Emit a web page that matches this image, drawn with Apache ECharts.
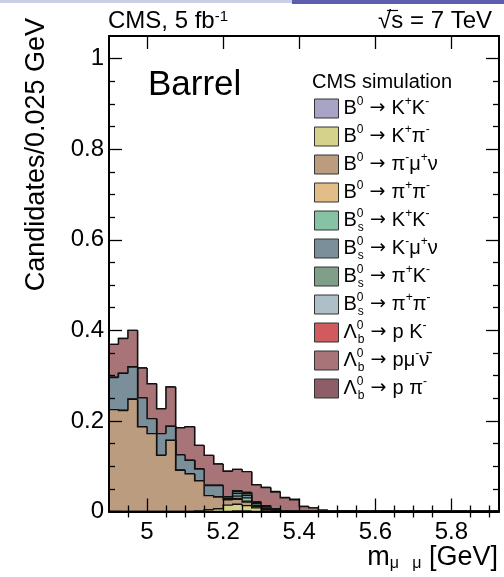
<!DOCTYPE html>
<html>
<head>
<meta charset="utf-8">
<script src="https://cdn.jsdelivr.net/npm/echarts@6/dist/echarts.min.js"></script>
<style>
  html, body { margin: 0; padding: 0; background: #fff; }
  #chart { width: 504px; height: 577px; }
</style>
</head>
<body>
<div id="chart"></div>
<script>
// Dimuon invariant mass, stacked simulated peaking / semileptonic backgrounds (barrel)
const binEdges = [4.900, 4.925, 4.950, 4.975, 5.000, 5.025, 5.050, 5.075, 5.100, 5.125,
                  5.150, 5.175, 5.200, 5.225, 5.250, 5.275, 5.300, 5.325, 5.350, 5.375,
                  5.400, 5.425, 5.450, 5.475, 5.500, 5.525, 5.550, 5.575, 5.600, 5.625,
                  5.650, 5.675, 5.700, 5.725, 5.750, 5.775, 5.800, 5.825, 5.850, 5.875,
                  5.900, 5.925];

// Candidates per 0.025 GeV bin, one value per bin (41 bins)
const b0KK = [0,0,0,0,0,0,0,0,0,0, 0,0,0,0.001,0.001,0,0,0,0,0, 0,0,0,0,0,0,0,0,0,0, 0,0,0,0,0,0,0,0,0,0, 0];
const b0KPi = [0,0,0,0,0,0,0,0,0,0.001, 0.004,0.006,0.014,0.015,0.012,0.008,0.003,0.001,0,0, 0,0,0,0,0,0,0,0,0,0, 0,0,0,0,0,0,0,0,0,0, 0];
const b0PiMuNu = [0.225,0.223,0.248,0.187,0.172,0.124,0.157,0.091,0.083,0.067, 0.031,0.026,0.012,0.011,0.008,0.003,0.001,0,0,0, 0,0,0,0,0,0,0,0,0,0, 0,0,0,0,0,0,0,0,0,0, 0];
const b0PiPi = [0,0,0,0,0,0,0,0,0,0, 0,0,0,0.002,0.002,0.002,0,0,0,0, 0,0,0,0,0,0,0,0,0,0, 0,0,0,0,0,0,0,0,0,0, 0];
const bsKK = [0,0,0,0,0,0,0,0,0,0, 0,0,0,0.005,0.007,0.004,0.002,0,0,0, 0,0,0,0,0,0,0,0,0,0, 0,0,0,0,0,0,0,0,0,0, 0];
const bsKMuNu = [0.071,0.082,0.071,0.064,0.033,0.048,0.031,0.034,0.030,0.026, 0.0225,0.0255,0.002,0.006,0.006,0.001,0.002,0,0,0, 0,0,0,0,0,0,0,0,0,0, 0,0,0,0,0,0,0,0,0,0, 0];
const bsPiK = [0,0,0,0,0,0,0,0,0,0, 0,0,0.004,0.004,0.004,0.002,0.003,0.002,0,0, 0,0,0,0,0,0,0,0,0,0, 0,0,0,0,0,0,0,0,0,0, 0];
const bsPiPi = [0,0,0,0,0,0,0,0,0,0, 0,0,0,0.002,0.002,0.001,0.001,0.001,0,0, 0,0,0,0,0,0,0,0,0,0, 0,0,0,0,0,0,0,0,0,0, 0];
const lbPK = [0,0,0,0,0,0,0,0,0,0, 0,0,0,0,0,0,0.001,0.002,0.001,0, 0,0,0,0,0,0,0,0,0,0, 0,0,0,0,0,0,0,0,0,0, 0];
const lbPMuNu = [0.073,0.077,0.081,0.066,0.077,0.055,0.087,0.060,0.074,0.052, 0.0665,0.0475,0.057,0.047,0.046,0.038,0.040,0.037,0.029,0.026, 0.011,0.008,0.003,0,0,0,0,0,0,0, 0,0,0,0,0,0,0,0,0,0, 0];
const lbPPi = [0,0,0,0,0,0,0,0,0,0, 0,0,0,0,0,0,0,0.001,0.001,0.001, 0,0,0,0,0.002,0.002,0,0,0,0, 0,0,0,0,0,0,0,0,0,0, 0];

// Axis ticks and labels
const xMajor = [5.0, 5.2, 5.4, 5.6, 5.8];
const xMinor = [4.95, 5.05, 5.1, 5.15, 5.25, 5.3, 5.35, 5.45, 5.5, 5.55, 5.65, 5.7, 5.75, 5.85, 5.9];
const yMajor = [0, 0.2, 0.4, 0.6, 0.8, 1.0];
const yMinor = [0.05, 0.1, 0.15, 0.25, 0.3, 0.35, 0.45, 0.5, 0.55, 0.65, 0.7, 0.75, 0.85, 0.9, 0.95];

const FONT = "'Liberation Sans', Arial, Helvetica, sans-serif";

// Stack order from bottom to top, same as legend order
const components = [
  { name: 'b0KK',     label: 'B{p|0}{a| → }K{p|+}K{p|-}',         color: '#a8a4c6', values: b0KK },
  { name: 'b0KPi',    label: 'B{p|0}{a| → }K{p|+}π{p|-}',         color: '#d5d38b', values: b0KPi },
  { name: 'b0PiMuNu', label: 'B{p|0}{a| → }π{p|-}μ{p|+}ν',        color: '#bc9c7f', values: b0PiMuNu },
  { name: 'b0PiPi',   label: 'B{p|0}{a| → }π{p|+}π{p|-}',         color: '#e3bd87', values: b0PiPi },
  { name: 'bsKK',     label: 'B{z|0}{b|s}{a| → }K{p|+}K{p|-}',    color: '#85c3a4', values: bsKK },
  { name: 'bsKMuNu',  label: 'B{z|0}{b|s}{a| → }K{p|-}μ{p|+}ν',   color: '#7b8f9a', values: bsKMuNu },
  { name: 'bsPiK',    label: 'B{z|0}{b|s}{a| → }π{p|+}K{p|-}',    color: '#7f9f89', values: bsPiK },
  { name: 'bsPiPi',   label: 'B{z|0}{b|s}{a| → }π{p|+}π{p|-}',    color: '#aebfc7', values: bsPiPi },
  { name: 'lbPK',     label: 'Λ{z|0}{b|b}{a| → }p K{p|-}',        color: '#d05b5f', values: lbPK },
  { name: 'lbPMuNu',  label: 'Λ{z|0}{b|b}{a| → }pμ{p|-}ν̄',       color: '#a87478', values: lbPMuNu },
  { name: 'lbPPi',    label: 'Λ{z|0}{b|b}{a| → }p π{p|-}',        color: '#8d5e67', values: lbPPi }
];

const labelByName = {};
components.forEach(c => { labelByName[c.name] = c.label; });

// Running stack: each layer sits on the sum of the layers below it
const nBins = binEdges.length - 1;
let below = new Array(nBins).fill(0);
const series = components.map((c, i) => {
  const top = below.map((b, k) => b + c.values[k]);
  const data = [];
  for (let k = 0; k < nBins; k++) {
    data.push([binEdges[k], binEdges[k + 1], below[k], top[k], k > 0 ? top[k - 1] : 0]);
  }
  below = top;
  return {
    name: c.name,
    type: 'custom',
    coordinateSystem: 'cartesian2d',
    xAxisIndex: 0,
    yAxisIndex: 0,
    clip: true,
    silent: true,
    animation: false,
    z: 30 - i,
    itemStyle: { color: c.color },
    encode: { x: [0, 1], y: [2, 3] },
    data,
    renderItem: (params, api) => {
      const x0 = api.value(0), x1 = api.value(1);
      const lo = api.value(2), hi = api.value(3), prev = api.value(4);
      const pLo = api.coord([x0, lo]);
      const pHi = api.coord([x1, hi]);
      const pPrev = api.coord([x0, prev]);
      const children = [];
      if (hi > lo) {
        // small overlap so neighbouring bins join without a hairline gap
        children.push({
          type: 'rect',
          shape: { x: pLo[0] - 0.4, y: pHi[1], width: pHi[0] - pLo[0] + 0.8, height: pLo[1] - pHi[1] },
          style: { fill: c.color, stroke: null }
        });
      }
      children.push({
        type: 'polyline',
        shape: { points: [[pPrev[0], pPrev[1]], [pLo[0], pHi[1]], [pHi[0], pHi[1]]] },
        style: { stroke: '#111', lineWidth: 1.4, fill: null },
        z2: 5
      });
      return { type: 'group', children };
    }
  };
});

const axisLine = { show: true, onZero: false, lineStyle: { color: '#000', width: 2 } };
const tickStyle = { color: '#000', width: 1.3 };

function xAxisDef(position, ticks, len, withLine, withLabels) {
  return {
    type: 'value', gridIndex: 0, position, min: 4.9, max: 5.925,
    axisLine: withLine ? axisLine : { show: false },
    axisTick: { show: true, inside: true, length: len, customValues: ticks, lineStyle: tickStyle },
    axisLabel: withLabels
      ? { show: true, customValues: ticks, fontSize: 24, fontFamily: FONT, color: '#000', margin: 9 }
      : { show: false },
    splitLine: { show: false }, minorTick: { show: false }, z: 40
  };
}
function yAxisDef(position, ticks, len, withLine, withLabels) {
  return {
    type: 'value', gridIndex: 0, position, min: 0, max: 1.05,
    axisLine: withLine ? axisLine : { show: false },
    axisTick: { show: true, inside: true, length: len, customValues: ticks, lineStyle: tickStyle },
    axisLabel: withLabels
      ? { show: true, customValues: ticks, fontSize: 24, fontFamily: FONT, color: '#000', margin: 5 }
      : { show: false },
    splitLine: { show: false }, minorTick: { show: false }, z: 40
  };
}

const supStyle = { fontSize: 12, fontFamily: FONT, color: '#000', verticalAlign: 'top', lineHeight: 12 };

const option = {
  animation: false,
  backgroundColor: '#fff',
  grid: { left: 109, top: 36, width: 390, height: 475.5, outerBoundsMode: 'none', containLabel: false },
  xAxis: [
    xAxisDef('bottom', xMajor, 13, true, true),
    xAxisDef('bottom', xMinor, 6, false, false),
    xAxisDef('top', xMajor, 13, true, false),
    xAxisDef('top', xMinor, 6, false, false)
  ],
  yAxis: [
    yAxisDef('left', yMajor, 13, true, true),
    yAxisDef('left', yMinor, 6, false, false),
    yAxisDef('right', yMajor, 13, true, false),
    yAxisDef('right', yMinor, 6, false, false)
  ],
  legend: {
    show: true,
    orient: 'vertical',
    left: 314,
    top: 95.5,
    padding: 0,
    itemWidth: 24,
    itemHeight: 19,
    itemGap: 2,
    icon: 'rect',
    selectedMode: false,
    data: components.map(c => ({
      name: c.name,
      icon: 'rect',
      itemStyle: { color: c.color, borderColor: '#333', borderWidth: 1 }
    })),
    formatter: name => labelByName[name],
    textStyle: {
      fontFamily: FONT, fontSize: 20, color: '#000', lineHeight: 26,
      rich: {
        p: supStyle,
        z: Object.assign({}, supStyle, { width: 1 }),
        b: { fontSize: 12, fontFamily: FONT, color: '#000', verticalAlign: 'bottom', lineHeight: 12 },
        a: { fontSize: 19, fontFamily: "'DejaVu Sans', sans-serif", color: '#000', lineHeight: 19 }
      }
    }
  },
  graphic: [
    { type: 'rect', shape: { x: 0, y: 0, width: 292, height: 3 }, style: { fill: '#c9d0e3' }, silent: true },
    { type: 'rect', shape: { x: 292, y: 0, width: 212, height: 4 }, style: { fill: '#5b5eae' }, silent: true },
    {
      type: 'text', x: 108, y: 21, silent: true,
      style: {
        text: 'CMS, 5 fb{p|-1}', fill: '#000', font: '24px ' + FONT,
        textAlign: 'left', textVerticalAlign: 'middle',
        rich: { p: { fontSize: 15, fontFamily: FONT, fill: '#000', verticalAlign: 'top', lineHeight: 14 } }
      }
    },
    {
      type: 'text', x: 492, y: 21, silent: true,
      style: { text: '√s = 7 TeV', fill: '#000', font: '24px ' + FONT, textAlign: 'right', textVerticalAlign: 'middle' }
    },
    { type: 'line', shape: { x1: 387, y1: 10.5, x2: 398, y2: 10.5 }, style: { stroke: '#000', lineWidth: 1.2 }, silent: true },
    {
      type: 'text', x: 148, y: 85, silent: true,
      style: { text: 'Barrel', fill: '#000', font: '35px ' + FONT, textAlign: 'left', textVerticalAlign: 'middle' }
    },
    {
      type: 'text', x: 382, y: 82, silent: true,
      style: { text: 'CMS simulation', fill: '#000', font: '20px ' + FONT, textAlign: 'center', textVerticalAlign: 'middle' }
    },
    {
      type: 'text', x: 37, y: 18, rotation: Math.PI / 2, silent: true,
      style: { text: 'Candidates/0.025 GeV', fill: '#000', font: '27px ' + FONT, textAlign: 'right', textVerticalAlign: 'middle' }
    },
    {
      type: 'text', x: 498, y: 558, silent: true,
      style: {
        text: 'm{s|μ   μ} [GeV]', fill: '#000', font: '27px ' + FONT,
        textAlign: 'right', textVerticalAlign: 'middle',
        rich: { s: { fontSize: 16, fontFamily: FONT, fill: '#000', verticalAlign: 'bottom', lineHeight: 15 } }
      }
    }
  ],
  series
};

const chart = echarts.init(document.getElementById('chart'), null, { renderer: 'canvas' });
chart.setOption(option);
</script>
</body>
</html>
